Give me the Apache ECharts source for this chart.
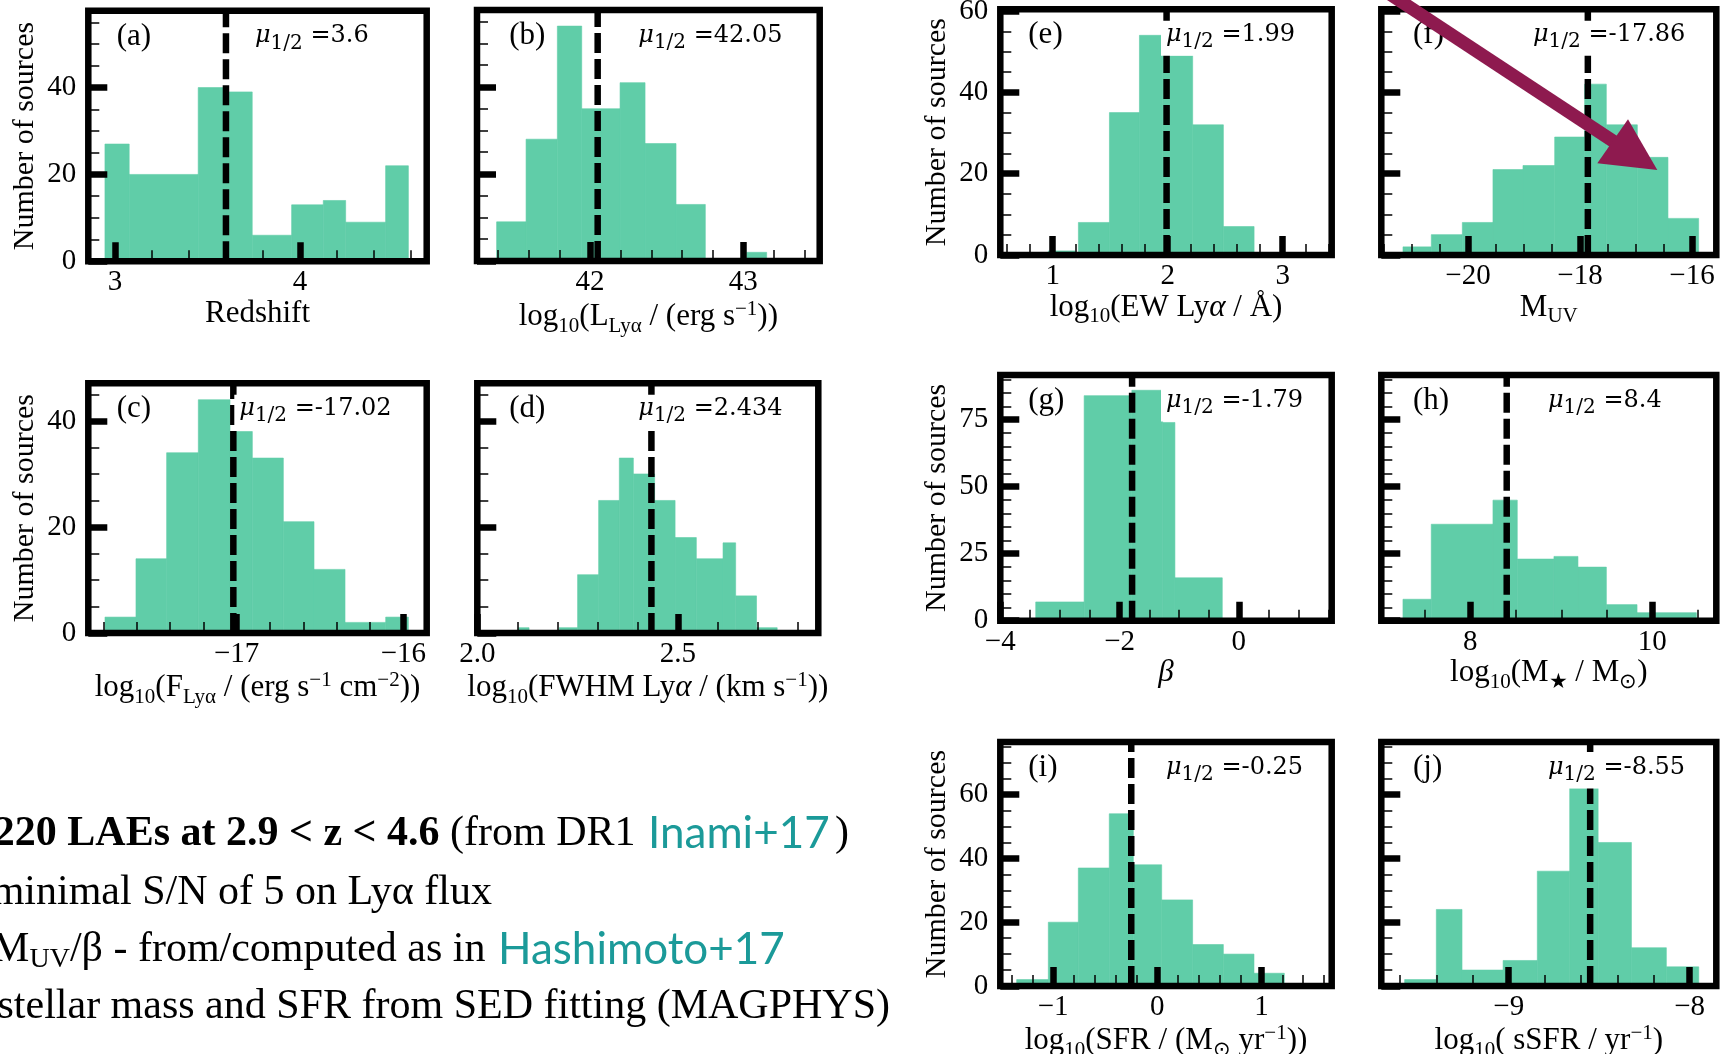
<!DOCTYPE html>
<html>
<head>
<meta charset="utf-8">
<script src="https://cdn.jsdelivr.net/npm/echarts@6/dist/echarts.min.js"></script>
<style>
html, body { margin: 0; padding: 0; background: #fff; }
#chart { width: 1727px; height: 1054px; }
</style>
</head>
<body>
<div id="chart"></div>
<script>
const GREEN = '#60cda8'
const TEAL = '#1b9a99'
const SERIF = '"Liberation Serif", "Times New Roman", serif'
const MATH = '"DejaVu Serif", serif'

// histogram bins: edges (n+1) and counts (n), zero count = empty gap
const edgesA = [2.946, 3.077, 3.450, 3.600, 3.742, 3.955, 4.126, 4.247, 4.463, 4.586]
const countsA = [27, 20, 40, 39, 6, 13, 14, 9, 22]
const edgesB = [41.391, 41.583, 41.787, 41.946, 42.196, 42.359, 42.561, 42.752, 43.022, 43.152]
const countsB = [9, 28, 54, 35, 41, 27, 13, 0, 2]
const edgesC = [-17.79, -17.604, -17.42, -17.23, -17.04, -16.906, -16.72, -16.536, -16.35, -16.106, -15.97]
const countsC = [3, 14, 34, 44, 38, 33, 21, 12, 2, 3]
const edgesD = [2.1025, 2.129, 2.204, 2.25, 2.3025, 2.354, 2.389, 2.442, 2.493, 2.546, 2.6125, 2.644, 2.696, 2.7475]
const countsD = [1, 0, 1, 11, 25, 33, 30, 25, 18, 14, 17, 7, 1]
const edgesE = [0.962, 1.194, 1.223, 1.493, 1.754, 1.957, 2.217, 2.484, 2.751]
const countsE = [1, 0, 8, 35, 54, 49, 32, 7]
const edgesF = [-21.161, -20.655, -20.101, -19.554, -19.018, -18.452, -17.917, -17.530, -16.976, -16.429, -15.881]
const countsF = [2, 5, 8, 21, 22, 29, 42, 32, 24, 9]
const edgesG = [-3.406, -2.594, -1.794, -1.278, -1.072, -0.278]
const countsG = [7, 84, 86, 74, 16]
const edgesH = [7.26, 7.571, 8.249, 8.516, 8.919, 9.183, 9.495, 9.832, 10.484]
const countsH = [8, 36, 45, 23, 24, 20, 6, 3]
const edgesI = [-1.350, -1.046, -0.758, -0.461, -0.230, 0.042, 0.339, 0.634, 0.928, 1.219]
const countsI = [2, 20, 37, 54, 38, 27, 13, 10, 4]
const edgesJ = [-9.575, -9.400, -9.258, -9.031, -8.842, -8.663, -8.506, -8.322, -8.129, -7.950]
const countsJ = [2, 24, 5, 8, 36, 62, 45, 12, 6]

const medians = [3.6, 42.05, -17.02, 2.434, 1.99, -17.86, -1.79, 8.4, -0.25, -8.55]

// tick labels
const xTicksA = [3, 4]
const xTicksB = [42, 43]
const xTicksC = [-17, -16]
const xTicksD = [2.0, 2.5]
const xTicksE = [1, 2, 3]
const xTicksF = [-20, -18, -16]
const xTicksG = [-4, -2, 0]
const xTicksH = [8, 10]
const xTicksI = [-1, 0, 1]
const xTicksJ = [-9, -8]
const yTicks40 = [0, 20, 40]
const yTicks60 = [0, 20, 40, 60]
const yTicks75 = [0, 25, 50, 75]

const tags = ['(a)', '(b)', '(c)', '(d)', '(e)', '(f)', '(g)', '(h)', '(i)', '(j)']
const xNames = [
	'{n|Redshift}',
	'{n|log}{sb|10}{n|(L}{sb|Lyα}{n| / (erg s}{sp|−1}{n|))}',
	'{n|log}{sb|10}{n|(F}{sb|Lyα}{n| / (erg s}{sp|−1}{n| cm}{sp|−2}{n|))}',
	'{n|log}{sb|10}{n|(FWHM Ly}{i|α}{n| / (km s}{sp|−1}{n|))}',
	'{n|log}{sb|10}{n|(EW Ly}{i|α}{n| / Å)}',
	'{n|M}{sb|UV}',
	'{i|β}',
	'{n|log}{sb|10}{n|(M}{sb|★}{n| / M}{sb|⊙}{n|)}',
	'{n|log}{sb|10}{n|(SFR / (M}{sb|⊙}{n| yr}{sp|−1}{n|))}',
	'{n|log}{sb|10}{n|( sSFR / yr}{sp|−1}{n|)}',
]

// panel layout: frame box [left, top, right, bottom], x range, y max
const layout = [
	{ box: [88.3, 10.7, 426.7, 261.3], x: [2.856, 4.685], ymax: 57.7, yLab: true, gap: 36.5, tagX: 116.7, muX: 255 },
	{ box: [477, 10, 819.7, 261], x: [41.263, 43.498], ymax: 57.7, yLab: false, gap: 37.7, tagX: 509.3, muX: 638.3 },
	{ box: [88.3, 383.3, 426.7, 633], x: [-17.89, -15.86], ymax: 47.1, yLab: true, gap: 37, tagX: 116.7, muX: 239.3 },
	{ box: [477.3, 383.3, 818.3, 633], x: [2.0, 2.85], ymax: 47.1, yLab: false, gap: 34, tagX: 509.3, muX: 638.3 },
	{ box: [1000.3, 9.3, 1331.7, 255], x: [0.544, 3.426], ymax: 60.4, yLab: true, gap: 36, tagX: 1028.3, muX: 1166 },
	{ box: [1381.3, 9.3, 1716.3, 255], x: [-21.548, -15.566], ymax: 60.4, yLab: false, gap: 26, tagX: 1413, muX: 1533 },
	{ box: [1000.3, 375, 1331.7, 620.7], x: [-4, 1.557], ymax: 91.7, yLab: true, gap: 30.5, tagX: 1028.3, muX: 1166 },
	{ box: [1381.3, 375, 1716.3, 620.7], x: [7.022, 10.703], ymax: 91.7, yLab: false, gap: 28.5, tagX: 1413, muX: 1548 },
	{ box: [1000.3, 742, 1331.7, 986], x: [-1.507, 1.674], ymax: 76.5, yLab: true, gap: 29.7, tagX: 1028.3, muX: 1166 },
	{ box: [1381.3, 742, 1716.3, 986], x: [-9.704, -7.853], ymax: 76.5, yLab: false, gap: 29.7, tagX: 1413, muX: 1548 },
]
const hist = [
	[edgesA, countsA, xTicksA, 0.2, yTicks40, 0],
	[edgesB, countsB, xTicksB, 0.2, yTicks40, 0],
	[edgesC, countsC, xTicksC, 0.2, yTicks40, 0],
	[edgesD, countsD, xTicksD, 0.1, yTicks40, 1],
	[edgesE, countsE, xTicksE, 0.2, yTicks60, 0],
	[edgesF, countsF, xTicksF, 0.5, yTicks60, 0],
	[edgesG, countsG, xTicksG, 0.5, yTicks75, 0],
	[edgesH, countsH, xTicksH, 0.5, yTicks75, 0],
	[edgesI, countsI, xTicksI, 0.2, yTicks60, 0],
	[edgesJ, countsJ, xTicksJ, 0.2, yTicks60, 0],
]

function minorTicks(lo, hi, step, majors) {
	let out = []
	for (let k = Math.ceil(lo / step - 1e-9); k * step <= hi + 1e-9; k++) {
		let v = +(k * step).toFixed(6)
		if (!majors.some((m) => Math.abs(m - v) < 1e-6)) out.push(v)
	}
	return out
}

function fmt(dec) {
	return (v) => {
		let s = Math.abs(v).toFixed(dec)
		return v < 0 ? '\u2212' + s : s
	}
}

// rich text with sub/superscripts, all tokens bottom aligned
function richSet(size, sub, drop, rise, family) {
	let base = { fontFamily: family || SERIF, color: '#000', fill: '#000', verticalAlign: 'bottom' }
	let pn = drop + 1
	let k = 0.15 * (size - sub)
	return {
		n: { ...base, fontSize: size, padding: [0, 0, pn, 0] },
		i: { ...base, fontSize: size, fontStyle: 'italic', padding: [0, 0, pn, 0] },
		sb: { ...base, fontSize: sub, padding: [0, 0, pn + k - drop, 0] },
		sp: { ...base, fontSize: sub, padding: [0, 0, pn + k + rise, 0] },
	}
}

function renderBin(params, api) {
	let p0 = api.coord([api.value(0), 0])
	let p1 = api.coord([api.value(1), api.value(2)])
	return {
		type: 'rect',
		shape: { x: p0[0], y: p1[1], width: p1[0] - p0[0], height: p0[1] - p1[1] },
		style: { fill: GREEN, stroke: GREEN, lineWidth: 0.6 },
	}
}

let grid = []
let xAxis = []
let yAxis = []
let series = []
let graphic = []

layout.forEach((p, i) => {
	let [edges, counts, xt, xStep, yt, dec] = hist[i]
	let [l, t, r, b] = p.box
	grid.push({
		left: l, top: t, width: r - l, height: b - t,
		show: true, borderColor: '#000', borderWidth: 6.5, backgroundColor: 'transparent',
		z: 10, containLabel: false, outerBoundsMode: 'none',
	})
	let xBase = { type: 'value', gridIndex: i, min: p.x[0], max: p.x[1], position: 'bottom', z: 9,
		axisLine: { show: false, onZero: false }, splitLine: { show: false } }
	xAxis.push({
		...xBase,
		axisTick: { show: true, inside: true, length: 19, customValues: xt, lineStyle: { color: '#000', width: 6.5 } },
		axisLabel: { show: true, customValues: xt, formatter: fmt(dec), margin: 7, color: '#000', fontFamily: SERIF, fontSize: 29 },
		name: xNames[i], nameLocation: 'middle', nameGap: p.gap,
		nameTextStyle: { rich: richSet(31, 21, 6, 11) },
	})
	xAxis.push({
		...xBase,
		axisTick: { show: true, inside: true, length: 11, customValues: minorTicks(p.x[0], p.x[1], xStep, xt), lineStyle: { color: '#000', width: 1.5 } },
		axisLabel: { show: false },
	})
	let yBase = { type: 'value', gridIndex: i, min: 0, max: p.ymax, position: 'left', z: 9,
		axisLine: { show: false, onZero: false }, splitLine: { show: false } }
	yAxis.push({
		...yBase,
		axisTick: { show: true, inside: true, length: 19, customValues: yt, lineStyle: { color: '#000', width: 6.5 } },
		axisLabel: { show: p.yLab, customValues: yt, margin: 12, color: '#000', fontFamily: SERIF, fontSize: 29 },
		name: p.yLab ? 'Number of sources' : '', nameLocation: 'middle', nameGap: 48, nameRotate: 90,
		nameTextStyle: { color: '#000', fontFamily: SERIF, fontSize: 30 },
	})
	yAxis.push({
		...yBase,
		axisTick: { show: true, inside: true, length: 11, customValues: minorTicks(0, p.ymax, 5, yt), lineStyle: { color: '#000', width: 1.5 } },
		axisLabel: { show: false },
	})
	series.push({
		type: 'custom',
		xAxisIndex: 2 * i,
		yAxisIndex: 2 * i,
		renderItem: renderBin,
		encode: { x: [0, 1], y: 2 },
		data: counts.map((c, k) => [edges[k], edges[k + 1], c]),
		z: 2,
	})
	series.push({
		type: 'line',
		xAxisIndex: 2 * i,
		yAxisIndex: 2 * i,
		data: [[medians[i], 0], [medians[i], p.ymax]],
		symbol: 'none',
		lineStyle: { color: '#000', width: 6.5, type: [20, 6] },
		z: 5,
	})
	// panel letter and median label (white box hides the dashed line behind it)
	graphic.push({
		type: 'text', x: p.tagX, y: t + 26, z: 50,
		style: { text: tags[i], fill: '#000', fontFamily: SERIF, fontSize: 31, align: 'left', verticalAlign: 'middle' },
	})
	graphic.push({
		type: 'text', x: p.muX - 5, y: t + 29, z: 50,
		style: {
			text: '{i|μ}{sb|1/2}{n| =' + medians[i] + '}',
			rich: richSet(24, 20, 6, 0, MATH),
			align: 'left', verticalAlign: 'middle',
			backgroundColor: '#fff', padding: [2, 3, 2, 5],
		},
	})
})

// arrow pointing into panel (f)
graphic.push({
	type: 'line', z: 100,
	shape: { x1: 1376, y1: -15, x2: 1616, y2: 143 },
	style: { stroke: '#8e1a4f', lineWidth: 13 },
})
graphic.push({
	type: 'polygon', z: 100,
	shape: { points: [[1628, 119.3], [1597.3, 163.3], [1657.3, 170]] },
	style: { fill: '#8e1a4f' },
})

// notes, bottom left
let noteRich = {
	b: { fontFamily: SERIF, fontSize: 42, fontWeight: 'bold', fill: '#000', color: '#000' },
	r: { fontFamily: SERIF, fontSize: 42, fill: '#000', color: '#000' },
}
graphic.push({
	type: 'text', x: 646, y: 834, z: 50,
	style: { text: '{b|220 LAEs at 2.9 < z < 4.6}{r| (from DR1 }', rich: noteRich, align: 'right', verticalAlign: 'middle' },
})
graphic.push({
	type: 'text', x: 648, y: 834, z: 50,
	style: { text: 'Inami+17', fill: TEAL, fontFamily: 'Lato', fontSize: 44, align: 'left', verticalAlign: 'middle' },
})
graphic.push({
	type: 'text', x: 835, y: 834, z: 50,
	style: { text: ')', fill: '#000', fontFamily: SERIF, fontSize: 42, align: 'left', verticalAlign: 'middle' },
})
graphic.push({
	type: 'text', x: 492, y: 893, z: 50,
	style: { text: 'minimal S/N of 5 on Lyα flux', fill: '#000', fontFamily: SERIF, fontSize: 42, align: 'right', verticalAlign: 'middle' },
})
graphic.push({
	type: 'text', x: 496, y: 953, z: 50,
	style: { text: '{n|M}{sb|UV}{n|/β - from/computed as in }', rich: richSet(42, 28, 5, 0), align: 'right', verticalAlign: 'middle' },
})
graphic.push({
	type: 'text', x: 498, y: 950, z: 50,
	style: { text: 'Hashimoto+17', fill: TEAL, fontFamily: 'Lato', fontSize: 44, align: 'left', verticalAlign: 'middle' },
})
graphic.push({
	type: 'text', x: 890, y: 1007, z: 50,
	style: { text: 'stellar mass and SFR from SED fitting (MAGPHYS)', fill: '#000', fontFamily: SERIF, fontSize: 42, align: 'right', verticalAlign: 'middle' },
})

let chart = echarts.init(document.getElementById('chart'), null, { renderer: 'canvas' })
chart.setOption({
	animation: false,
	backgroundColor: '#fff',
	textStyle: { fontFamily: SERIF },
	grid: grid,
	xAxis: xAxis,
	yAxis: yAxis,
	series: series,
	graphic: graphic,
})
</script>
</body>
</html>
